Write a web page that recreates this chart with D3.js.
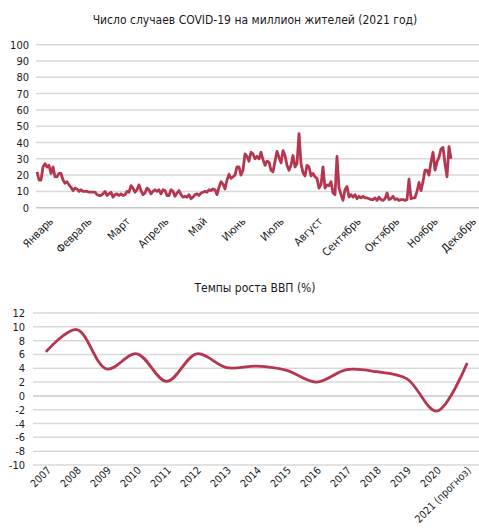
<!DOCTYPE html>
<html>
<head>
<meta charset="utf-8">
<script src="https://cdn.jsdelivr.net/npm/d3@7"></script>
<style>
  body { margin: 0; background: #fff; }
  svg text { fill: #1a1a1a; }
</style>
</head>
<body>
<svg id="chart" width="479" height="528"></svg>
<script>
// COVID cases per million, sampled along the year (Jan -> mid Nov)
var covidCases = [
  22, 17, 17, 25, 27, 25, 26, 21, 25, 19,
  19, 21, 21, 17, 15, 16, 14, 12.5, 10.5, 12,
  11.5, 10, 11, 10, 10, 10, 9.5, 9.5, 9.5, 9.5,
  8, 7.5, 7.5, 8.5, 10, 7.5, 8.5, 9.5, 6.5, 8,
  8.5, 7.5, 8.5, 7.5, 8, 10, 9.5, 13.5, 12, 9.5,
  11, 14, 10.5, 8, 9, 12, 11, 8.5, 10, 11,
  10, 11, 8.5, 11, 10.5, 7.5, 7.5, 11, 10, 7,
  9, 10.5, 8, 6.5, 7, 6.5, 8, 5.5, 6.5, 8,
  8.5, 7.5, 9, 9.5, 10, 9.5, 11, 10.5, 11.5, 11,
  8, 12.5, 16, 14.5, 11.5, 17, 20.5, 18, 19, 20,
  25, 25, 20, 23, 33, 31.5, 28.5, 34, 33, 30,
  31.5, 30, 34, 29.5, 26, 28.5, 28, 23, 22, 28.5,
  34.5, 31, 27.5, 35, 32, 26, 23, 26, 32, 25,
  27, 45.5, 27, 21.5, 19.5, 26, 25, 19.5, 21, 19,
  18, 12, 14, 25, 12, 14, 13.5, 16, 9, 8,
  31.5, 12, 8, 4.5, 11, 13, 6.5, 8, 6.5, 8,
  5.5, 7, 6, 7, 6, 6, 5.5, 5, 5, 6,
  4.5, 6.5, 5, 4.5, 5.5, 9, 5, 5.5, 7, 5,
  5.5, 4.5, 5, 5, 4.5, 5, 17.5, 5.5, 6, 6,
  10, 15.5, 10.5, 16, 23, 23, 20, 28, 34, 23,
  28, 31, 36, 37, 27, 19, 37.5, 30
];
var months = ["Январь", "Февраль", "Март", "Апрель", "Май", "Июнь",
  "Июль", "Август", "Сентябрь", "Октябрь", "Ноябрь", "Декабрь"];
var covidTicks = [0, 10, 20, 30, 40, 50, 60, 70, 80, 90, 100];

// GDP growth, %
var years = ["2007", "2008", "2009", "2010", "2011", "2012", "2013", "2014",
  "2015", "2016", "2017", "2018", "2019", "2020", "2021 (прогноз)"];
var gdpGrowth = [6.5, 9.6, 3.9, 6.1, 2.1, 6.1, 4.1, 4.3, 3.7, 2.0, 3.8, 3.5, 2.5, -2.2, 4.6];
var gdpTicks = [-10, -8, -6, -4, -2, 0, 2, 4, 6, 8, 10, 12];

var lineColor = "#b5374f";
var gridColor = "#d9d9d9";
var narrow = "'DejaVu Sans Condensed', 'Liberation Sans Narrow', sans-serif";

var svg = d3.select("#chart");

// ---------- top chart ----------
var yCovid = d3.scaleLinear().domain([0, 100]).range([207.7, 44.7]);
var xCovid = d3.scaleLinear().domain([0, covidCases.length - 1]).range([37, 451]);
var xMonth = d3.scalePoint().domain(months).range([54, 477]);

svg.append("text")
  .attr("x", 255).attr("y", 24)
  .attr("text-anchor", "middle")
  .style("font-family", narrow).style("font-size", "12px")
  .text("Число случаев COVID-19 на миллион жителей (2021 год)");

var g1 = svg.append("g");
g1.selectAll("line.grid")
  .data(covidTicks)
  .enter().append("line")
  .attr("x1", 36).attr("x2", 479)
  .attr("y1", function(d) { return yCovid(d); })
  .attr("y2", function(d) { return yCovid(d); })
  .attr("stroke", function(d) { return d === 0 ? "#c8c8c8" : gridColor; })
  .attr("stroke-width", 1.5);

var yAxis1 = g1.append("g")
  .attr("transform", "translate(29,0)")
  .call(d3.axisLeft(yCovid).tickValues(covidTicks).tickSize(0).tickFormat(function(d) { return String(d); }));
yAxis1.select(".domain").remove();
yAxis1.selectAll("text").attr("x", 0)
  .style("font-family", narrow).style("font-size", "11px").attr("fill", "#1a1a1a");

g1.selectAll("text.month")
  .data(months)
  .enter().append("text")
  .attr("class", "month")
  .attr("text-anchor", "end")
  .attr("transform", function(d) { return "translate(" + xMonth(d) + ",222) rotate(-45)"; })
  .style("font-family", narrow).style("font-size", "11px")
  .text(function(d) { return d; });

var covidLine = d3.line()
  .x(function(d, i) { return xCovid(i); })
  .y(function(d) { return yCovid(d); });

g1.append("path")
  .datum(covidCases)
  .attr("fill", "none")
  .attr("stroke", lineColor)
  .attr("stroke-width", 2.8)
  .attr("stroke-linejoin", "round")
  .attr("d", covidLine);

// ---------- bottom chart ----------
var yGdp = d3.scaleLinear().domain([-10, 12]).range([465, 313]);
var xYear = d3.scalePoint().domain(years).range([46.7, 466.7]);

svg.append("text")
  .attr("x", 255).attr("y", 292)
  .attr("text-anchor", "middle")
  .style("font-family", narrow).style("font-size", "12px")
  .text("Темпы роста ВВП (%)");

var g2 = svg.append("g");
g2.selectAll("line.grid")
  .data(gdpTicks)
  .enter().append("line")
  .attr("x1", 33).attr("x2", 479)
  .attr("y1", function(d) { return yGdp(d); })
  .attr("y2", function(d) { return yGdp(d); })
  .attr("stroke", function(d) { return d === 0 ? "#c8c8c8" : gridColor; })
  .attr("stroke-width", 1.5);

var yAxis2 = g2.append("g")
  .attr("transform", "translate(25,0)")
  .call(d3.axisLeft(yGdp).tickValues(gdpTicks).tickSize(0).tickFormat(function(d) { return String(d); }));
yAxis2.select(".domain").remove();
yAxis2.selectAll("text").attr("x", 0)
  .style("font-family", narrow).style("font-size", "11px").attr("fill", "#1a1a1a");

g2.selectAll("text.year")
  .data(years)
  .enter().append("text")
  .attr("class", "year")
  .attr("text-anchor", "end")
  .attr("transform", function(d) { return "translate(" + (xYear(d) + 5) + ",471) rotate(-45)"; })
  .style("font-family", narrow).style("font-size", "10.5px")
  .text(function(d) { return d; });

var gdpLine = d3.line()
  .x(function(d, i) { return xYear(years[i]); })
  .y(function(d) { return yGdp(d); })
  .curve(d3.curveCatmullRom.alpha(0.5));

g2.append("path")
  .datum(gdpGrowth)
  .attr("fill", "none")
  .attr("stroke", lineColor)
  .attr("stroke-width", 2.8)
  .attr("stroke-linecap", "round")
  .attr("d", gdpLine);
</script>
</body>
</html>
